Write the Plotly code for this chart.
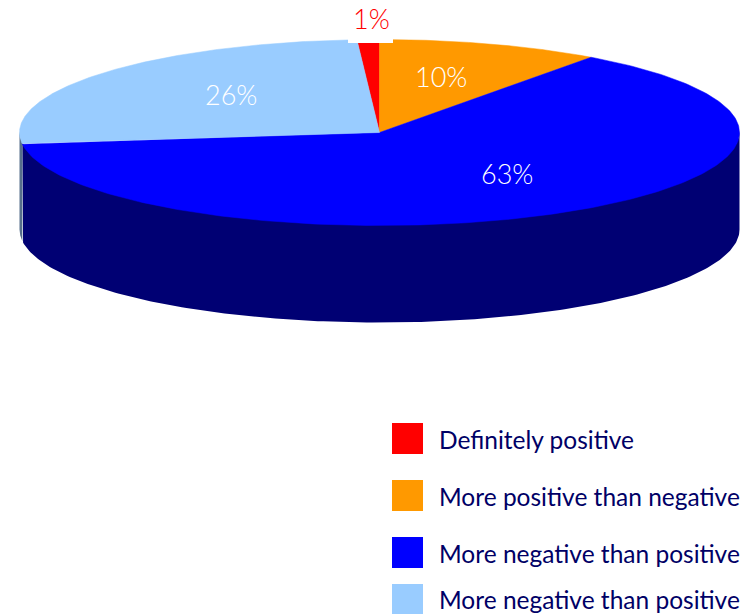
import numpy as np
import plotly.graph_objects as go

categories = ["Definitely positive", "More positive than negative",
              "More negative than positive", "More negative than positive"]
values = [1, 10, 63, 26]
value_labels = ["1%", "10%", "63%", "26%"]

top_colors = ["#ff0000", "#ff9900", "#0000ff", "#99ccff"]
side_colors = ["#800000", "#804c00", "#000073", "#566f8c"]
label_colors = ["#ff0000", "#ffffff", "#ffffff", "#ffffff"]
label_pos = [(371, 18), (441, 76), (507, 173), (231, 94)]
swatch_y = [438.5, 495.5, 552.5, 599.5]
text_y = [439, 496, 553, 599]

CX, CY, RX, RY, DEPTH = 379.5, 132.5, 360, 93, 97
FONT = "Lato"


def ell(t):
    return CX + RX * np.sin(t), CY - RY * np.cos(t)


fig = go.Figure()
edges = np.radians(np.array([-values[0], 0, values[1], values[1] + values[2],
                             values[1] + values[2] + values[3]]) * 3.6)
starts = edges[:-1]
ends = edges[1:]

# side wall: only the part of each slice facing the viewer (front half of the ellipse)
for i in range(len(values)):
    lo, hi = starts[i], ends[i]
    a, b = max(lo, np.pi / 2), min(hi, 3 * np.pi / 2)
    if b <= a:
        continue
    t = np.linspace(a, b, 200)
    x, y = ell(t)
    fig.add_trace(go.Scatter(
        x=np.concatenate([x, x[::-1]]), y=np.concatenate([y - 1.5, y[::-1] + DEPTH]),
        mode="lines", fill="toself", fillcolor=side_colors[i], line=dict(width=0),
        hoverinfo="skip", showlegend=False))

# top faces
for i in range(len(values)):
    t = np.linspace(starts[i], ends[i], 240)
    x, y = ell(t)
    fig.add_trace(go.Scatter(
        x=np.concatenate([[CX], x, [CX]]), y=np.concatenate([[CY], y, [CY]]),
        mode="lines", fill="toself", fillcolor=top_colors[i],
        line=dict(width=0.5, color=top_colors[i]),
        name=categories[i], text=value_labels[i], hoverinfo="name+text", showlegend=False))

# legend swatches
fig.add_trace(go.Scatter(
    x=[407.5] * 4, y=swatch_y, mode="markers",
    marker=dict(symbol="square", size=31, color=top_colors, line=dict(width=0)),
    hoverinfo="skip", showlegend=False))

annotations = []
for i, lab in enumerate(value_labels):
    annotations.append(dict(
        x=label_pos[i][0], y=label_pos[i][1], text=lab, showarrow=False,
        xref="x", yref="y", font=dict(family=FONT, size=27, weight=300, color=label_colors[i]),
        xanchor="center", yanchor="middle"))
for i, c in enumerate(categories):
    annotations.append(dict(
        x=437, y=text_y[i], text=c, showarrow=False, xref="x", yref="y",
        font=dict(family=FONT, size=24.5, color="#000066"),
        xanchor="left", yanchor="middle"))

# white box behind the 1% label, cutting into the top of the pie
shapes = [dict(type="rect", xref="x", yref="y", x0=348, x1=393, y0=0, y1=43,
               fillcolor="#ffffff", line=dict(width=0), layer="above")]

fig.update_layout(
    width=751, height=614, margin=dict(l=0, r=0, t=0, b=0),
    paper_bgcolor="#ffffff", plot_bgcolor="#ffffff",
    xaxis=dict(range=[0, 751], visible=False, fixedrange=True),
    yaxis=dict(range=[614, 0], visible=False, fixedrange=True),
    shapes=shapes, annotations=annotations, showlegend=False)

fig.write_html("out.html", config=dict(displayModeBar=False),
               post_script="document.body.style.margin='0';document.documentElement.style.overflow='hidden';")
